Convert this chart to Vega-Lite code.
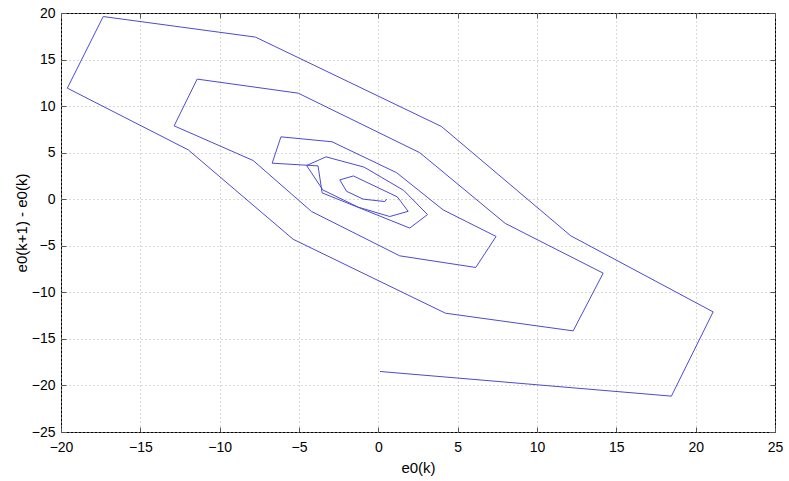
{
  "$schema": "https://vega.github.io/schema/vega-lite/v6.json",
  "width": 714,
  "height": 419,
  "autosize": {"type": "none"},
  "padding": {"left": 61, "top": 13, "right": 14, "bottom": 49},
  "background": "white",
  "config": {
    "view": {"stroke": "black", "strokeWidth": 1},
    "axis": {
      "labelFont": "Liberation Sans",
      "labelFontSize": 14,
      "labelColor": "black",
      "titleFont": "Liberation Sans",
      "titleFontSize": 15,
      "titleFontWeight": "normal",
      "titleColor": "black",
      "domain": false,
      "tickColor": "#555555",
      "tickSize": -5,
      "gridColor": "#b4b4b4",
      "gridDash": [1, 3],
      "gridWidth": 1
    }
  },
  "data": {
    "values": [
      {"k": 1, "x": 0.1, "y": -18.5},
      {"k": 2, "x": 18.47, "y": -21.15},
      {"k": 3, "x": 21.1, "y": -12.1},
      {"k": 4, "x": 12.13, "y": -3.93},
      {"k": 5, "x": 3.98, "y": 7.81},
      {"k": 6, "x": -7.74, "y": 17.41},
      {"k": 7, "x": -17.34, "y": 19.62},
      {"k": 8, "x": -19.6, "y": 11.93},
      {"k": 9, "x": -11.98, "y": 5.3},
      {"k": 10, "x": -5.37, "y": -4.3},
      {"k": 11, "x": 4.23, "y": -12.24},
      {"k": 12, "x": 12.28, "y": -14.14},
      {"k": 13, "x": 14.17, "y": -7.94},
      {"k": 14, "x": 8.0, "y": -2.6},
      {"k": 15, "x": 2.61, "y": 5.0},
      {"k": 16, "x": -5.05, "y": 11.39},
      {"k": 17, "x": -11.42, "y": 12.9},
      {"k": 18, "x": -12.87, "y": 7.88},
      {"k": 19, "x": -7.89, "y": 4.16},
      {"k": 20, "x": -4.21, "y": -1.32},
      {"k": 21, "x": 1.35, "y": -6.08},
      {"k": 22, "x": 6.14, "y": -7.33},
      {"k": 23, "x": 7.42, "y": -4.0},
      {"k": 24, "x": 4.08, "y": -1.14},
      {"k": 25, "x": 1.15, "y": 2.85},
      {"k": 26, "x": -2.92, "y": 6.17},
      {"k": 27, "x": -6.14, "y": 6.7},
      {"k": 28, "x": -6.69, "y": 3.87},
      {"k": 29, "x": -3.8, "y": 3.58},
      {"k": 30, "x": -3.54, "y": 0.68},
      {"k": 31, "x": 1.98, "y": -3.1},
      {"k": 32, "x": 3.1, "y": -1.65},
      {"k": 33, "x": 1.6, "y": 0.95},
      {"k": 34, "x": -0.9, "y": 3.45},
      {"k": 35, "x": -3.3, "y": 4.55},
      {"k": 36, "x": -4.52, "y": 3.62},
      {"k": 37, "x": -3.5, "y": 1.0},
      {"k": 38, "x": -1.27, "y": -0.85},
      {"k": 39, "x": 0.72, "y": -1.86},
      {"k": 40, "x": 1.88, "y": -1.3},
      {"k": 41, "x": 1.2, "y": 0.25},
      {"k": 42, "x": -1.57, "y": 2.5},
      {"k": 43, "x": -2.43, "y": 2.08},
      {"k": 44, "x": -2.0, "y": 0.85},
      {"k": 45, "x": -0.96, "y": 0.01},
      {"k": 46, "x": 0.41, "y": -0.25},
      {"k": 47, "x": 0.52, "y": 0.01}
    ]
  },
  "layer": [
    {
      "mark": {"type": "line", "color": "#4b4bd2", "strokeWidth": 1, "clip": true},
      "encoding": {
        "x": {
          "field": "x", "type": "quantitative",
          "scale": {"domain": [-20, 25], "nice": false, "zero": false},
          "axis": {"orient": "bottom", "values": [-20, -15, -10, -5, 0, 5, 10, 15, 20, 25], "grid": true, "labelPadding": 13, "title": "e0(k)", "titlePadding": 6, "labelFlush": false}
        },
        "y": {
          "field": "y", "type": "quantitative",
          "scale": {"domain": [-25, 20], "nice": false, "zero": false},
          "axis": {"orient": "left", "values": [-25, -20, -15, -10, -5, 0, 5, 10, 15, 20], "grid": true, "labelPadding": 11, "title": "e0(k+1) - e0(k)", "titlePadding": 2, "labelFlush": false}
        },
        "order": {"field": "k", "type": "quantitative"}
      }
    },
    {
      "mark": {"type": "line", "color": "#4b4bd2", "strokeWidth": 1, "opacity": 0},
      "encoding": {
        "x": {
          "field": "x", "type": "quantitative",
          "scale": {"domain": [-20, 25], "nice": false, "zero": false},
          "axis": {"orient": "top", "values": [-20, -15, -10, -5, 0, 5, 10, 15, 20, 25], "grid": false, "labels": false, "title": null}
        },
        "y": {
          "field": "y", "type": "quantitative",
          "scale": {"domain": [-25, 20], "nice": false, "zero": false},
          "axis": {"orient": "right", "values": [-25, -20, -15, -10, -5, 0, 5, 10, 15, 20], "grid": false, "labels": false, "title": null}
        },
        "order": {"field": "k", "type": "quantitative"}
      }
    }
  ],
  "resolve": {"axis": {"x": "independent", "y": "independent"}}
}
